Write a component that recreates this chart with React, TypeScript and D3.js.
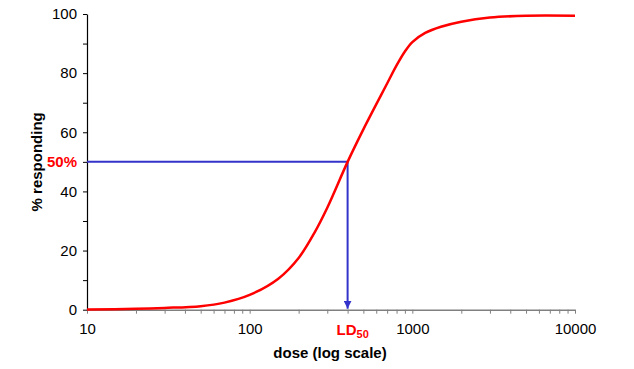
import React, { useEffect, useRef } from 'react';
import * as d3 from 'd3';

// dose-response readings (dose, % responding)
const doses = [10, 20, 30, 50, 70, 100, 150, 200, 250, 300, 400, 500, 700, 800, 900, 1000, 1200, 1500, 2000, 3000, 5000, 10000];
const responding = [0.1, 0.3, 0.6, 1.2, 2.4, 5, 10.5, 17.5, 26, 34.5, 50, 61, 76.5, 82.6, 87.3, 90.5, 93.6, 95.7, 97.4, 98.8, 99.4, 99.4];

const ld50 = 400;
const yTicks = [0, 10, 20, 30, 40, 50, 60, 70, 80, 90, 100];
const yLabels = [0, 20, 40, 60, 80, 100];
const xMajor = [10, 100, 1000, 10000];

const App = () => {
  const svgRef = useRef<SVGSVGElement>(null);

  useEffect(() => {
    const svg = d3.select(svgRef.current);
    svg.selectAll('*').remove();

    const left = 87;
    const right = 575;
    const top = 14;
    const bottom = 309.7;
    const font = 'Liberation Sans, Arial, sans-serif';

    const x = d3.scaleLog([10, 10000], [left, right]);
    const y = d3.scaleLinear([0, 100], [bottom, top]);

    // minor + major ticks for the log axis
    const xTicks: number[] = [];
    for (let p = 10; p < 10000; p *= 10) {
      for (let m = 1; m < 10; m++) xTicks.push(p * m);
    }
    xTicks.push(10000);

    // x axis
    const gx = svg.append('g')
      .attr('transform', `translate(0,${bottom})`)
      .call(d3.axisBottom(x)
        .tickValues(xTicks)
        .tickFormat(d => (xMajor.includes(+d) ? String(d) : ''))
        .tickSize(4)
        .tickPadding(10)
        .tickSizeOuter(0));
    gx.select('.domain').attr('stroke', '#808080').attr('stroke-width', 1.5);
    gx.selectAll('.tick line').attr('stroke', '#808080');
    gx.selectAll('text').attr('font-family', font).attr('font-size', 15).attr('fill', '#000');

    // y axis
    const gy = svg.append('g')
      .attr('transform', `translate(${left},0)`)
      .call(d3.axisLeft(y)
        .tickValues(yTicks)
        .tickFormat(d => (yLabels.includes(+d) ? String(d) : ''))
        .tickSize(4)
        .tickPadding(6)
        .tickSizeOuter(0));
    gy.select('.domain').attr('stroke', '#000').attr('stroke-width', 1.2);
    gy.selectAll('.tick line').attr('stroke', '#000');
    gy.selectAll('text').attr('font-family', font).attr('font-size', 15).attr('fill', '#000');

    // axis titles
    svg.append('text')
      .attr('x', 330)
      .attr('y', 358)
      .attr('text-anchor', 'middle')
      .attr('font-family', font)
      .attr('font-size', 15)
      .attr('font-weight', 'bold')
      .text('dose (log scale)');

    svg.append('text')
      .attr('transform', `translate(42,${(top + bottom) / 2}) rotate(-90)`)
      .attr('text-anchor', 'middle')
      .attr('font-family', font)
      .attr('font-size', 15)
      .attr('font-weight', 'bold')
      .text('% responding');

    // LD50 guide lines
    const blue = '#3333cc';
    svg.append('defs').append('marker')
      .attr('id', 'arrow')
      .attr('viewBox', '0 0 10 10')
      .attr('refX', 10)
      .attr('refY', 5)
      .attr('markerWidth', 4)
      .attr('markerHeight', 4)
      .attr('orient', 'auto')
      .append('path')
      .attr('d', 'M0,0L10,5L0,10Z')
      .attr('fill', blue);

    svg.append('path')
      .attr('fill', 'none')
      .attr('stroke', blue)
      .attr('stroke-width', 2)
      .attr('d', `M${x(10)},${y(50)}H${x(ld50)}V${y(0) - 1}`)
      .attr('marker-end', 'url(#arrow)');

    // curve
    const line = d3.line<number>()
      .x((_, i) => x(doses[i]))
      .y(d => y(d))
      .curve(d3.curveCatmullRom.alpha(0.5));

    svg.append('path')
      .attr('fill', 'none')
      .attr('stroke', '#ff0000')
      .attr('stroke-width', 2.5)
      .attr('d', line(responding));

    // labels in red
    svg.append('text')
      .attr('x', 77)
      .attr('y', y(50))
      .attr('dy', '0.35em')
      .attr('text-anchor', 'end')
      .attr('font-family', font)
      .attr('font-size', 15)
      .attr('font-weight', 'bold')
      .attr('fill', '#ff0000')
      .text('50%');

    const ld = svg.append('text')
      .attr('x', x(ld50) - 11)
      .attr('y', 334.5)
      .attr('font-family', font)
      .attr('font-size', 15)
      .attr('font-weight', 'bold')
      .attr('fill', '#ff0000');
    ld.append('tspan').text('LD');
    ld.append('tspan').attr('font-size', 11).attr('dy', 3).text('50');
  }, []);

  return (
    <svg
      ref={svgRef}
      width={634}
      height={369}
      viewBox="0 0 634 369"
      style={{ position: 'absolute', left: 0, top: 0, background: '#fff' }}
    />
  );
};

export default App;
